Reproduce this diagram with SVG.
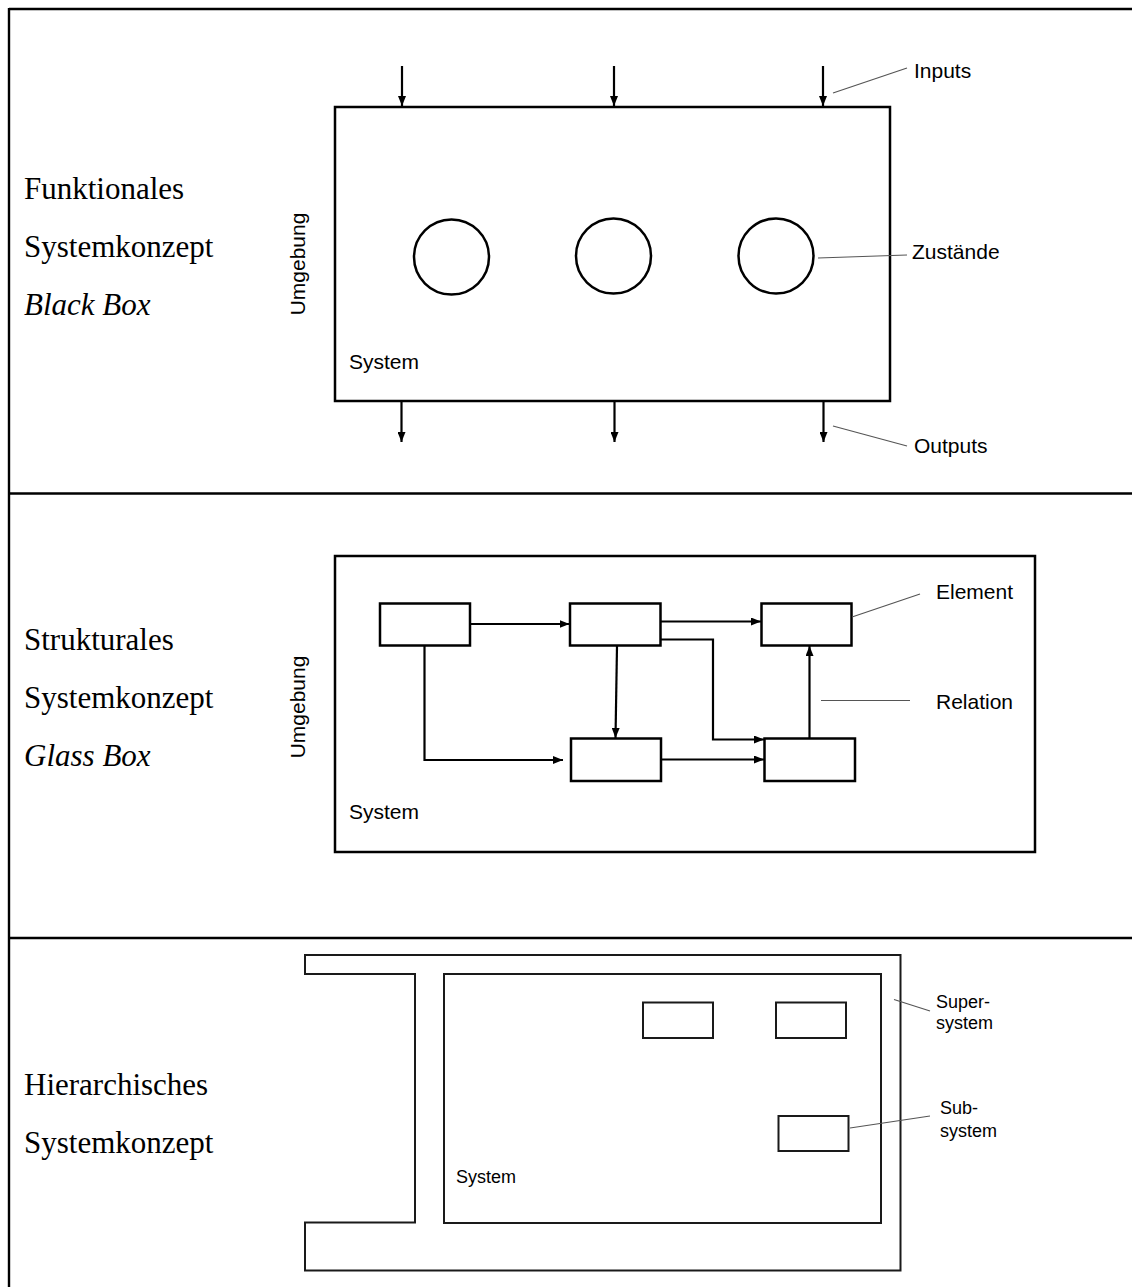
<svg xmlns="http://www.w3.org/2000/svg" width="1132" height="1287" viewBox="0 0 1132 1287">
  <style>
    .grid { stroke: #000; stroke-width: 2.4; fill: none; }
    .box { stroke: #000; stroke-width: 2.5; fill: none; }
    .thin { stroke: #1a1a1a; stroke-width: 2; fill: none; }
    .flow { stroke: #000; stroke-width: 2.2; fill: none; }
    .lead { stroke: #555; stroke-width: 1.2; fill: none; }
    .head { font-family: "Liberation Serif", "Times New Roman", serif; font-size: 31px; fill: #000; }
    .lbl { font-family: "Liberation Sans", Arial, sans-serif; font-size: 21px; fill: #000; }
    .sm { font-family: "Liberation Sans", Arial, sans-serif; font-size: 18px; fill: #000; }
  </style>
  <defs>
    <marker id="ah" viewBox="0 0 10 8" refX="10" refY="4" markerWidth="10" markerHeight="8" orient="auto" markerUnits="userSpaceOnUse">
      <path d="M0,0 L10,4 L0,8 z" fill="#000"/>
    </marker>
  </defs>

  <rect width="1132" height="1287" fill="#fff"/>

  <!-- table rules -->
  <g id="table">
    <line class="grid" x1="9" y1="9" x2="1132" y2="9"/>
    <line class="grid" x1="9" y1="8" x2="9" y2="1287"/>
    <line class="grid" x1="9" y1="493.5" x2="1132" y2="493.5"/>
    <line class="grid" x1="9" y1="938" x2="1132" y2="938"/>
  </g>

  <!-- row titles -->
  <g id="title-functional">
    <text class="head" x="24" y="199">Funktionales</text>
    <text class="head" x="24" y="257">Systemkonzept</text>
    <text class="head" x="24" y="315" font-style="italic">Black Box</text>
  </g>
  <g id="title-structural">
    <text class="head" x="24" y="650">Strukturales</text>
    <text class="head" x="24" y="708">Systemkonzept</text>
    <text class="head" x="24" y="766" font-style="italic">Glass Box</text>
  </g>
  <g id="title-hierarchical">
    <text class="head" x="24" y="1095">Hierarchisches</text>
    <text class="head" x="24" y="1153">Systemkonzept</text>
  </g>

  <!-- ===== Black box ===== -->
  <g id="blackbox-system">
    <rect class="box" x="335" y="107" width="555" height="294"/>
    <text class="lbl" x="349" y="369">System</text>
    <text class="lbl" transform="translate(305,264) rotate(-90)" text-anchor="middle">Umgebung</text>
  </g>
  <g id="state-1"><circle class="box" cx="451.5" cy="257" r="37.5"/></g>
  <g id="state-2"><circle class="box" cx="613.5" cy="256" r="37.5"/></g>
  <g id="state-3"><circle class="box" cx="776" cy="256" r="37.5"/></g>
  <g id="label-inputs"><text class="lbl" x="914" y="78">Inputs</text></g>
  <g id="label-states"><text class="lbl" x="912" y="259">Zustände</text></g>
  <g id="label-outputs"><text class="lbl" x="914" y="453">Outputs</text></g>

  <!-- ===== Glass box ===== -->
  <g id="glassbox-system">
    <rect class="box" x="335" y="556" width="700" height="296"/>
    <text class="lbl" x="349" y="819">System</text>
    <text class="lbl" transform="translate(305,707) rotate(-90)" text-anchor="middle">Umgebung</text>
  </g>
  <g id="element-1"><rect class="box" x="380" y="603.5" width="90" height="42"/></g>
  <g id="element-2"><rect class="box" x="570" y="603.5" width="90.5" height="42"/></g>
  <g id="element-3"><rect class="box" x="761.5" y="603.5" width="90" height="42"/></g>
  <g id="element-4"><rect class="box" x="571" y="738.5" width="90" height="42.5"/></g>
  <g id="element-5"><rect class="box" x="764.5" y="738.5" width="90.5" height="42.5"/></g>
  <g id="label-element"><text class="lbl" x="936" y="599">Element</text></g>
  <g id="label-relation"><text class="lbl" x="936" y="709">Relation</text></g>

  <!-- ===== Hierarchy ===== -->
  <g id="supersystem">
    <path class="thin" d="M305,955 H900.5 V1270.5 H305 V1222.5 H415 V974 H305 Z"/>
  </g>
  <g id="hierarchy-system">
    <rect class="thin" x="444" y="974" width="437" height="249"/>
    <text class="sm" x="456" y="1183">System</text>
  </g>
  <g id="subsystem-1"><rect class="thin" x="643" y="1002.5" width="70" height="35.5"/></g>
  <g id="subsystem-2"><rect class="thin" x="776" y="1002.5" width="70" height="35.5"/></g>
  <g id="subsystem-3"><rect class="thin" x="778.5" y="1116" width="70" height="35"/></g>
  <g id="label-supersystem">
    <text class="sm" x="936" y="1008">Super-</text>
    <text class="sm" x="936" y="1029">system</text>
  </g>
  <g id="label-subsystem">
    <text class="sm" x="940" y="1114">Sub-</text>
    <text class="sm" x="940" y="1137">system</text>
  </g>

  <!-- connectors -->
  <g id="connectors">
    <!-- inputs / outputs -->
    <line class="flow" x1="402" y1="66" x2="402" y2="106" marker-end="url(#ah)"/>
    <line class="flow" x1="614" y1="66" x2="614" y2="106" marker-end="url(#ah)"/>
    <line class="flow" x1="823" y1="66" x2="823" y2="106" marker-end="url(#ah)"/>
    <line class="flow" x1="401.5" y1="402" x2="401.5" y2="442" marker-end="url(#ah)"/>
    <line class="flow" x1="614.5" y1="402" x2="614.5" y2="442" marker-end="url(#ah)"/>
    <line class="flow" x1="823.5" y1="402" x2="823.5" y2="442" marker-end="url(#ah)"/>

    <!-- relations between elements -->
    <line class="flow" x1="470" y1="624" x2="569.5" y2="624" marker-end="url(#ah)"/>
    <line class="flow" x1="661" y1="621.5" x2="761" y2="621.5" marker-end="url(#ah)"/>
    <polyline class="flow" points="661,639.5 713,639.5 713,739.5 764,739.5" marker-end="url(#ah)"/>
    <line class="flow" x1="617" y1="646" x2="615.5" y2="738" marker-end="url(#ah)"/>
    <polyline class="flow" points="424.5,646 424.5,760 563,760" marker-end="url(#ah)"/>
    <line class="flow" x1="662" y1="759.5" x2="764" y2="759.5" marker-end="url(#ah)"/>
    <line class="flow" x1="809.5" y1="738" x2="809.5" y2="646" marker-end="url(#ah)"/>

    <!-- annotation leaders -->
    <line class="lead" x1="833" y1="93" x2="907" y2="68"/>
    <line class="lead" x1="818" y1="258" x2="907" y2="255"/>
    <line class="lead" x1="833" y1="426" x2="907" y2="446"/>
    <line class="lead" x1="852" y1="617" x2="920" y2="594"/>
    <line class="lead" x1="821" y1="700.5" x2="910" y2="700.5"/>
    <line class="lead" x1="894" y1="999.5" x2="930" y2="1011"/>
    <line class="lead" x1="850" y1="1128" x2="930" y2="1116"/>
  </g>
</svg>
